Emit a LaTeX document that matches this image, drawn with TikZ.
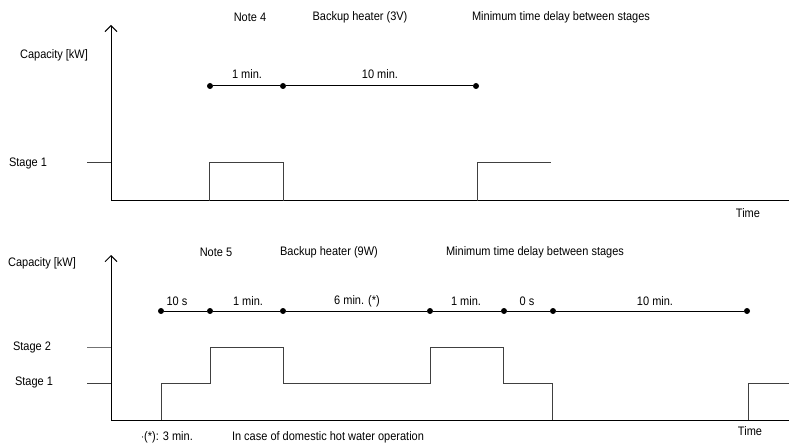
\documentclass[tikz,border=0pt]{standalone}
\usepackage{fontspec}
\setmainfont{Liberation Sans}
\usetikzlibrary{arrows.meta}
\tikzset{
  lbl/.style={font=\fontsize{11}{13}\selectfont, inner sep=0pt, yscale=1.12},
  dot/.style={circle, fill, inner sep=0pt, minimum size=6pt},
  axis/.style={line width=1pt, -{Straight Barb[length=6pt,width=12pt]}},
  wave/.style={line width=1pt, draw=black!75},
}

\begin{document}
\begin{tikzpicture}[x=1pt,y=-1pt]
\useasboundingbox (0,0) rectangle (789,446);

% upper chart: 3V
\node[lbl] (n4) at (250,17) {Note 4};
\node[lbl] (bh3) at (360,17) {Backup heater (3V)};
\node[lbl] (md1) at (561,17) {Minimum time delay between stages};
\node[lbl] (cap1) at (54,55) {Capacity [kW]};
\node[lbl] (st11) at (28,163) {Stage 1};
\node[lbl] (time1) at (748,213) {Time};

\coordinate (o1) at (111,201);
\coordinate (ytop1) at (111,25);
\coordinate (xend1) at (797,201);
\draw[axis] (o1) -- (ytop1);
\draw[axis] (o1) -- (xend1);
\coordinate (tk11) at (87,163);
\draw[wave] (tk11) -- (tk11 -| o1);

\node[dot] (11) at (210,86) {};
\node[dot] (12) at (283,86) {};
\node[dot] (13) at (476,86) {};
\draw[line width=1pt] (11) -- (12) -- (13);
\node[lbl] at (247,74) {1 min.};
\node[lbl] at (380,74) {10 min.};

\draw[wave] (209,201) -- (209,163) -- (283,163) -- (283,201);
\draw[wave] (477,201) -- (477,163) -- (551,163);

% lower chart: 9W
\node[lbl] (n5) at (216,252) {Note 5};
\node[lbl] (bh9) at (329,252) {Backup heater (9W)};
\node[lbl] (md2) at (535,252) {Minimum time delay between stages};
\node[lbl] (cap2) at (42,263) {Capacity [kW]};
\node[lbl] (st22) at (32,347) {Stage 2};
\node[lbl] (st21) at (34,382) {Stage 1};
\node[lbl] (time2) at (750,431) {Time};
\node[lbl] (ast) at (167,437) {$\cdot$(*): 3 min.};
\node[lbl] (dhw) at (328,437) {In case of domestic hot water operation};

\coordinate (o2) at (111,420);
\coordinate (ytop2) at (111,255);
\coordinate (xend2) at (797,420);
\draw[axis] (o2) -- (ytop2);
\draw[axis] (o2) -- (xend2);
\coordinate (tk22) at (87,347);
\coordinate (tk21) at (87,383);
\draw[wave, draw=black!55] (tk22) -- (tk22 -| o2);
\draw[wave] (tk21) -- (tk21 -| o2);

\node[dot] (21) at (161,311) {};
\node[dot] (22) at (210,311) {};
\node[dot] (23) at (283,311) {};
\node[dot] (24) at (430,311) {};
\node[dot] (25) at (504,311) {};
\node[dot] (26) at (553,311) {};
\node[dot] (27) at (747,311) {};
\draw[line width=1pt] (21) -- (22) -- (23) -- (24) -- (25) -- (26) -- (27);
\node[lbl] at (177,301) {10 s};
\node[lbl] at (248,301) {1 min.};
\node[lbl] at (357,301) {6 min. (*)};
\node[lbl] at (466,301) {1 min.};
\node[lbl] at (527,301) {0 s};
\node[lbl] at (655,301) {10 min.};

\draw[wave] (161,420) -- (161,383) -- (210,383) -- (210,347) -- (283,347)
  -- (283,383) -- (430,383) -- (430,347) -- (503,347) -- (503,383)
  -- (552,383) -- (552,420);
\draw[wave] (748,420) -- (748,383) -- (792,383);
\end{tikzpicture}
\end{document}
